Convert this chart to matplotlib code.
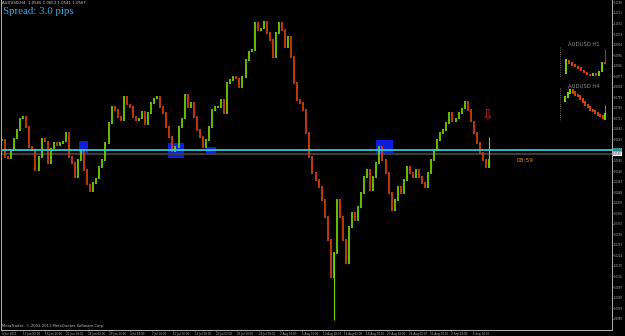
import numpy as np
import matplotlib.pyplot as plt

# ==========================
# data (AUDUSD, closes per bar)
# ==========================

closes = [
    1.0641, 1.0578, 1.0574, 1.0604, 1.0648, 1.0678, 1.0722, 1.0726, 1.0689, 1.0615,
    1.0604, 1.0530, 1.0578, 1.0648, 1.0634, 1.0556, 1.0611, 1.0630, 1.0622, 1.0630,
    1.0634, 1.0667, 1.0578, 1.0556, 1.0504, 1.0567, 1.0604, 1.0530, 1.0475, 1.0449,
    1.0482, 1.0500, 1.0541, 1.0567, 1.0630, 1.0704, 1.0763, 1.0752, 1.0726, 1.0715,
    1.0800, 1.0771, 1.0763, 1.0726, 1.0715, 1.0722, 1.0745, 1.0697, 1.0741, 1.0778,
    1.0796, 1.0800, 1.0763, 1.0741, 1.0689, 1.0652, 1.0597, 1.0615, 1.0689, 1.0722,
    1.0808, 1.0763, 1.0778, 1.0726, 1.0678, 1.0652, 1.0615, 1.0641, 1.0689, 1.0752,
    1.0763, 1.0763, 1.0789, 1.0741, 1.0852, 1.0863, 1.0874, 1.0870, 1.0837, 1.0874,
    1.0937, 1.0967, 1.0974, 1.1074, 1.1048, 1.1055, 1.1078, 1.1037, 1.1011, 1.0948,
    1.1037, 1.1074, 1.1048, 1.0985, 1.1022, 1.0948, 1.0852, 1.0789, 1.0778, 1.0752,
    1.0667, 1.0578, 1.0519, 1.0493, 1.0467, 1.0419, 1.0356, 1.0271, 1.0134, 1.0223,
    1.0419, 1.0356, 1.0271, 1.0186, 1.0319, 1.0371, 1.0345, 1.0393, 1.0445, 1.0504,
    1.0530, 1.0456, 1.0504, 1.0556, 1.0615, 1.0567, 1.0519, 1.0445, 1.0382, 1.0419,
    1.0467, 1.0445, 1.0493, 1.0541, 1.0519, 1.0504, 1.0530, 1.0504, 1.0482, 1.0467,
    1.0519, 1.0567, 1.0604, 1.0641, 1.0667, 1.0678, 1.0704, 1.0741, 1.0708, 1.0722,
    1.0741, 1.0759, 1.0782, 1.0752, 1.0708, 1.0667, 1.0630, 1.0593, 1.0567, 1.0541,
    1.0567,
]

# bars with long shadows
wick_bars = [109, 160]
wick_lows = [0.9975, 1.0541]
wick_highs = [1.0223, 1.0653]

level_price = 1.0604
bid_price = 1.0590

# blue marked zones (bar range, price range)
zone_bars = [(25.2, 28.4), (54.6, 59.8), (67.0, 70.3), (122.9, 128.4)]
zone_prices = [(1.0589, 1.0637), (1.0574, 1.0630), (1.0585, 1.0615), (1.0585, 1.0641)]

price_ticks = [
    1.1150, 1.1111, 1.1072, 1.1033, 1.0994, 1.0955, 1.0916, 1.0877, 1.0838, 1.0799,
    1.0760, 1.0721, 1.0682, 1.0643, 1.0565, 1.0526, 1.0487, 1.0448, 1.0409,
    1.0370, 1.0331, 1.0292, 1.0253, 1.0214, 1.0175, 1.0136, 1.0097, 1.0058, 1.0019,
    0.9980,
]

time_labels = [
    "8 Jun 2011", "13 Jun 02:00", "16 Jun 10:00", "21 Jun 18:00", "24 Jun 02:00",
    "29 Jun 10:00", "4 Jul 18:00", "7 Jul 02:00", "12 Jul 10:00", "15 Jul 18:00",
    "20 Jul 02:00", "25 Jul 10:00", "28 Jul 18:00", "2 Aug 02:00", "5 Aug 10:00",
    "10 Aug 18:00", "15 Aug 02:00", "18 Aug 10:00", "23 Aug 18:00", "26 Aug 02:00",
    "31 Aug 10:00", "2 Sep 18:00", "5 Sep 10:00",
]

# mini charts (top right)
h1_open = [1.0560, 1.0632, 1.0620, 1.0612, 1.0600, 1.0595, 1.0578, 1.0568, 1.0556, 1.0550, 1.0558, 1.0552, 1.0570, 1.0620]
h1_close = [1.0640, 1.0615, 1.0608, 1.0598, 1.0590, 1.0575, 1.0565, 1.0555, 1.0548, 1.0560, 1.0552, 1.0572, 1.0620, 1.0615]
h1_last_high = 1.0700

h4_open = [1.0650, 1.0668, 1.0688, 1.0705, 1.0695, 1.0683, 1.0675, 1.0662, 1.0648, 1.0632, 1.0620, 1.0608, 1.0600, 1.0592, 1.0583, 1.0575, 1.0560]
h4_close = [1.0670, 1.0690, 1.0705, 1.0690, 1.0680, 1.0672, 1.0660, 1.0645, 1.0630, 1.0618, 1.0605, 1.0598, 1.0590, 1.0580, 1.0572, 1.0562, 1.0585]
h4_last_high = 1.0630

UP = "#74d600"
DOWN = "#d8400c"
GRID = "#b4b4b4"

W, H = 625, 336


def fx(px):
    return px / W


def fy(py):
    return 1 - py / H


fig = plt.figure(figsize=(6.25, 3.36), dpi=100, facecolor="black")

# main chart: bar 0 at x=2px, bar 160 at x=489px ; price 1.1159 at y=0px, 0.00037 per px
ppb = 487 / 160
ax = fig.add_axes([fx(1), fy(330), fx(611), 330 / H], facecolor="black")
ax.set_xlim(-1 / ppb, 610 / ppb)
ax.set_ylim(1.1159 - 0.00037 * 330, 1.1159)

for (b0, b1), (p0, p1) in zip(zone_bars, zone_prices):
    ax.add_patch(plt.Rectangle((b0, p0), b1 - b0, p1 - p0, facecolor="#0c1ee0", edgecolor="none", zorder=1))

ax.axhline(bid_price, color="#3c3c3c", lw=1.6, zorder=1.5)
ax.axhline(level_price, color="#30cbd8", lw=1.3, zorder=3)

closes = np.array(closes)
opens = np.r_[closes[0], closes[:-1]]
x = np.arange(len(closes))
colors = [UP if c >= o else DOWN for o, c in zip(opens, closes)]
lo = np.minimum(opens, closes) - 0.0002
hi = np.maximum(opens, closes) + 0.0002
ax.vlines(x, lo, hi, colors=colors, lw=1.25, zorder=2)

for b, l, h in zip(wick_bars, wick_lows, wick_highs):
    c = UP if closes[b] >= opens[b] else "#b01818"
    ax.vlines(b, l, h, colors=c, lw=0.8, zorder=2)

# axes styling like the terminal
ax.spines["top"].set_visible(False)
for side in ["left", "right", "bottom"]:
    ax.spines[side].set_color(GRID)
    ax.spines[side].set_linewidth(0.7)

ax.yaxis.tick_right()
ax.set_yticks(price_ticks)
ax.set_yticklabels([f"{p:.4f}" for p in price_ticks])
ax.tick_params(axis="y", colors=GRID, labelsize=1.9, length=0.9, width=0.5, pad=0.5)

tick_pos = [i * 21.4 / ppb for i in range(len(time_labels))]
ax.set_xticks(tick_pos)
ax.set_xticklabels(time_labels)
ax.tick_params(axis="x", colors=GRID, labelsize=2.0, length=1.0, width=0.5, pad=0.3)
for lbl in ax.get_xticklabels():
    lbl.set_ha("left")

# current price labels on the scale
ax.text(1.0015, level_price, f"{level_price:.4f}", transform=ax.get_yaxis_transform(),
        fontsize=1.9, color="black", va="center", ha="left",
        bbox=dict(boxstyle="square,pad=0.15", facecolor="#30cbd8", edgecolor="none"))
ax.text(1.0015, level_price - 0.0015, f"{bid_price:.4f}", transform=ax.get_yaxis_transform(),
        fontsize=1.9, color="black", va="center", ha="left",
        bbox=dict(boxstyle="square,pad=0.15", facecolor="white", edgecolor="none"))

# arrow and timer
ax.text(159.5, 1.0735, "\u21e9", color="#d02020", fontsize=10, ha="center", va="center")
fig.text(fx(517), fy(160), "08:59", color="#e08a30", fontsize=4.2, ha="left", va="center")

# header texts
fig.text(fx(2), fy(3.5), "AUDUSD,H4  1.0565 1.0653 1.0541 1.0567", color="#d0d0d0", fontsize=2.8, va="center")
fig.text(fx(3), fy(12), "Spread: 3.0 pips", color="#3fa8e8", fontsize=7.8, va="center",
         family="Liberation Serif")
fig.text(fx(2), fy(326.5), "MetaTrader, \u00a9 2001-2011 MetaQuotes Software Corp.", color="#c0c0c0",
         fontsize=2.7, va="center")


def mini(rect, opens_, closes_, last_high, title, title_y, line_top, line_bot):
    a = fig.add_axes(rect)
    a.set_facecolor("none")
    a.axis("off")
    xs = np.arange(len(opens_))
    cols = [UP if c >= o else DOWN for o, c in zip(opens_, closes_)]
    a.vlines(xs, np.minimum(opens_, closes_) - 0.0003, np.maximum(opens_, closes_) + 0.0003,
             colors=cols, lw=1.4)
    a.vlines(xs[-1], min(opens_[-1], closes_[-1]), last_high, colors=cols[-1], lw=0.6)
    a.set_xlim(-1.2, len(opens_) - 0.2)
    fig.text(fx(584), fy(title_y), title, color="#8c8c8c", fontsize=3.8, ha="center", va="center")
    fig.add_artist(plt.Line2D([fx(560), fx(560)], [fy(line_top), fy(line_bot)], color="#8c8c8c",
                              lw=0.6, ls=":"))
    return a


a1 = mini([fx(562), fy(78), fx(45), 30 / H], h1_open, h1_close, h1_last_high, "AUDUSD H1", 45, 47, 77)
a1.set_ylim(1.0535, 1.0705)
a2 = mini([fx(562), fy(121), fx(45), 33 / H], h4_open, h4_close, h4_last_high, "AUDUSD H4", 86, 88, 120)
a2.set_ylim(1.0550, 1.0715)

fig.savefig("out.png", dpi=100, facecolor="black")
